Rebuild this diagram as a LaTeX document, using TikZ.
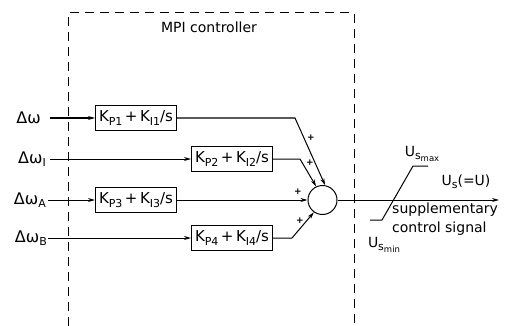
\documentclass[tikz,border=0pt]{standalone}
\usepackage{fontspec}
\setmainfont{DejaVu Sans}
\usetikzlibrary{arrows.meta}
\newcommand\lowsub[1]{\raisebox{-0.4ex}{\fontsize{11}{11}\selectfont #1}}
\newcommand\lowsubsub[1]{\raisebox{-0.4ex}{\fontsize{8.5}{8.5}\selectfont #1}}
\begin{document}
\begin{tikzpicture}[x=1pt,y=-1pt,
  tf/.style={draw, line width=1pt, minimum width=81pt, minimum height=25pt, inner sep=1pt, font=\fontsize{15}{16}\selectfont},
  sig/.style={line width=1pt},
  arr/.style={sig, -{Stealth[length=7pt,width=4pt]}},
  lbl/.style={font=\fontsize{14}{19}\selectfont, inner sep=1pt},
  inlbl/.style={font=\fontsize{16}{17}\selectfont, inner sep=1pt, anchor=east},
  plus/.style={font=\bfseries\fontsize{9}{9}\selectfont, inner sep=0pt},
  frame/.style={dash pattern=on 9pt off 6pt, line width=1pt}]
\useasboundingbox (0,0) rectangle (508,326);
% dashed controller frame
\draw[frame] (68,326) -- (68,13) -- (354,13) -- (354,326);
\node[lbl] (title) at (209,27) {MPI controller};
% transfer blocks
\node[tf] (b1) at (136,118) {K\lowsub{P1}\,+\,K\lowsub{I1}/s};
\node[tf] (b2) at (232,159) {K\lowsub{P2}\,+\,K\lowsub{I2}/s};
\node[tf] (b3) at (136,200) {K\lowsub{P3}\,+\,K\lowsub{I3}/s};
\node[tf] (b4) at (232,238) {K\lowsub{P4}\,+\,K\lowsub{I4}/s};
% summing junction
\node[circle, draw, line width=1pt, minimum size=29pt, inner sep=0pt] (sum) at (322.5,200) {};
% inputs
\coordinate (in1) at (50,118);
\coordinate (in2) at (50,159);
\coordinate (in3) at (48,200);
\coordinate (in4) at (48,238);
\node[inlbl] (l1) at ([xshift=-8pt]in1) {Δω};
\node[inlbl] (l2) at ([xshift=-3pt]in2) {Δω\lowsub{I}};
\node[inlbl] (l3) at ([xshift=-1pt]in3) {Δω\lowsub{A}};
\node[inlbl] (l4) at ([xshift=0pt]in4) {Δω\lowsub{B}};
\draw[arr] (in1) -- (b1);
\draw[arr] (in2) -- (b2);
\draw[arr] (in3) -- (b3);
\draw[arr] (in4) -- (b4);
% block outputs to junction
\coordinate (k1) at (295,118);
\coordinate (k2) at (300,159);
\coordinate (k4) at (292,238);
\draw[arr] (b1.east) -- (k1) -- (sum.80);
\draw[arr] (b2.east) -- (k2) -- (sum.115);
\draw[arr] (b3.east) -- (sum.west);
\draw[arr] (b4.east) -- (k4) -- (sum.235);
\node[plus] (p1) at (311,138) {+};
\node[plus] (p2) at (310,163) {+};
\node[plus] (p3) at (298,192) {+};
\node[plus] (p4) at (300,221) {+};
% output
\coordinate (out) at (499,200);
\draw[arr] (sum.east) -- (out);
% limiter
\coordinate (lt1) at (428,166);
\coordinate (lt0) at (413,166);
\coordinate (lb0) at (382,220);
\coordinate (lb1) at (370,220);
\draw[sig] (lb1) -- (lb0) -- (lt0) -- (lt1);
\node[lbl] (umax) at (422,154) {U\lowsub{s\lowsubsub{max}}};
\node[lbl] (us) at (466,182) {U\lowsub{s}(=U)};
\node[lbl, anchor=west, align=left] (supp) at (391,219) {supplementary\\control signal};
\node[lbl] (umin) at (384,245) {U\lowsub{s\lowsubsub{min}}};
\end{tikzpicture}
\end{document}
